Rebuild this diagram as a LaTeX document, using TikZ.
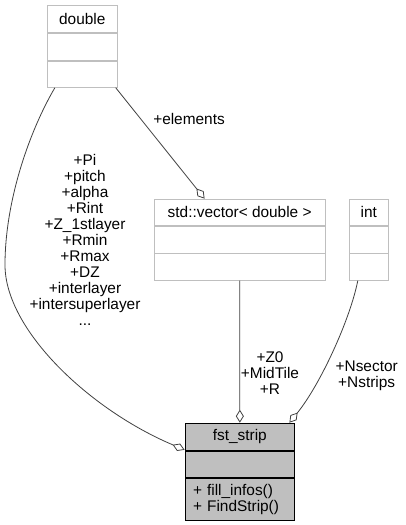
\documentclass[tikz,border=0pt]{standalone}
\usepackage{fontspec}
\setmainfont{Liberation Sans}
\usetikzlibrary{arrows.meta}
\definecolor{boxgray}{RGB}{191,191,191}
\definecolor{edgegray}{RGB}{64,64,64}

\begin{document}
\begin{tikzpicture}[x=1pt,y=-1pt,
    font=\fontsize{15.4}{16}\selectfont,
    cls/.style={draw=boxgray,line width=0.8pt,inner sep=0pt,minimum height=27pt,anchor=north},
    main/.style={cls,draw=black,fill=boxgray},
    aggr/.style={draw=edgegray,line width=0.8pt,-{Diamond[open,length=13pt,width=8pt]}}]
          \useasboundingbox (0,0) rectangle (405,525);
          % class boxes
          \node [cls,minimum width=70pt] (dbl) at (82.3,5.3) {double};
          \node [cls,minimum width=70pt] (dblattr) at (dbl.south) {};
          \node [cls,minimum width=70pt,minimum height=26pt] (dblop) at (dblattr.south) {};
          \node [cls,minimum width=170.7pt,minimum height=26.5pt] (vec) at (239.65,198.7) {std::vector< double >};
          \node [cls,minimum width=170.7pt,minimum height=26.5pt] (vecattr) at (vec.south) {};
          \node [cls,minimum width=170.7pt,minimum height=26.5pt] (vecop) at (vecattr.south) {};
          \node [cls,minimum width=39pt,minimum height=26.5pt] (int) at (368.8,198.7) {int};
          \node [cls,minimum width=39pt,minimum height=26.5pt] (intattr) at (int.south) {};
          \node [cls,minimum width=39pt,minimum height=26.5pt] (intop) at (intattr.south) {};
          \node [main,minimum width=109.7pt,minimum height=27.3pt] (strip) at (239.85,422.7) {fst\_strip};
          \node [main,minimum width=109.7pt,minimum height=26pt] (stripattr) at (strip.south) {};
          \node [main,minimum width=109.7pt,minimum height=42.3pt,text width=93.7pt,align=left] (stripop) at (stripattr.south) {+ fill\_infos()\\+ FindStrip()};
          % edge labels
          \node (elements) at (189,118.5) {+elements};
          \node [align=center] (dbllabel) at (85,240) {+Pi\\+pitch\\+alpha\\+Rint\\+Z\_1stlayer\\+Rmin\\+Rmax\\+DZ\\+interlayer\\+intersuperlayer\\...};
          \node [align=center] (veclabel) at (270,373.5) {+Z0\\+MidTile\\+R};
          \node [align=center] (intlabel) at (366.7,376.2) {+Nsector\\+Nstrips};
          % connectors
          \draw [aggr] ([xshift=-2pt]dblop.south east) -- ([xshift=50.7pt]vec.north west);
          \draw [aggr] ([xshift=8pt]dblop.south west) .. controls (30,130) and (5,200) .. (5,265)
                .. controls (5,330) and (90,410) .. ([yshift=1pt]strip.south west);
          \draw [aggr] (vecop.south) -- (strip.north);
          \draw [aggr] ([xshift=-11pt]intop.south) .. controls (350,320) and (320,385) .. ([xshift=-5.7pt]strip.north east);
        \end{tikzpicture}
\end{document}
